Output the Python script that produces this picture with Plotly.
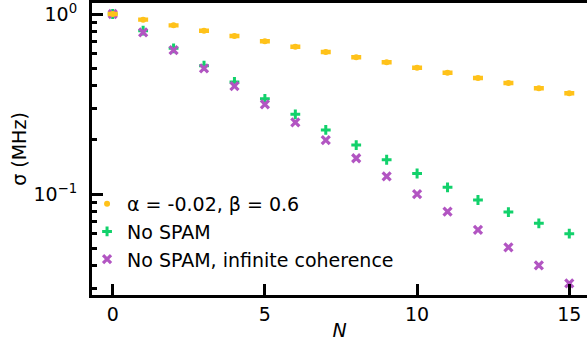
import plotly.graph_objects as go

N = list(range(16))
sigma_ab = [1.0, 0.930, 0.865, 0.808, 0.755, 0.705, 0.658, 0.615, 0.575,
            0.539, 0.503, 0.472, 0.441, 0.414, 0.387, 0.363]
sigma_ab_err = [0.012, 0.011, 0.010, 0.010, 0.009, 0.009, 0.008, 0.008, 0.007,
                0.007, 0.006, 0.006, 0.006, 0.005, 0.005, 0.005]
sigma_nospam = [1.0, 0.808, 0.645, 0.516, 0.419, 0.338, 0.277, 0.227, 0.187,
                0.155, 0.130, 0.109, 0.0926, 0.0794, 0.0687, 0.0602]
sigma_inf = [1.0, 0.791, 0.629, 0.499, 0.397, 0.315, 0.250, 0.1995, 0.158,
             0.1254, 0.100, 0.0798, 0.0633, 0.0506, 0.0402, 0.0319]

x_ticks = [0, 5, 10, 15]
y_ticks = [1, 0.1]
y_ticktext = ["10<sup>0</sup>", "10<sup>\u22121</sup>"]

YELLOW = "#FFC21A"
GREEN = "#12D16B"
PURPLE = "#B255C2"
FONT = "DejaVu Sans"
FS = 19

fig = go.Figure()
fig.add_trace(go.Scatter(
    x=N, y=sigma_nospam, mode="markers", name="No SPAM",
    legendrank=2, legendgroup="b",
    marker=dict(symbol="cross-thin", size=7, color=GREEN,
                line=dict(color=GREEN, width=3)),
))
fig.add_trace(go.Scatter(
    x=N, y=sigma_inf, mode="markers", name="No SPAM, infinite coherence",
    legendrank=3, legendgroup="c",
    marker=dict(symbol="x-thin", size=8, color=PURPLE,
                line=dict(color=PURPLE, width=3.2)),
))
fig.add_trace(go.Scatter(
    x=N, y=sigma_ab, mode="markers", name="\u03b1 = -0.02, \u03b2 = 0.6",
    legendrank=1, legendgroup="a",
    marker=dict(symbol="circle", size=6, color=YELLOW),
    error_y=dict(type="data", array=sigma_ab_err, visible=True,
                 color=YELLOW, thickness=2.5, width=5),
))

fig.update_layout(
    width=587, height=341,
    margin=dict(l=92, r=0, t=3, b=46),
    paper_bgcolor="white", plot_bgcolor="white",
    font=dict(family=FONT, size=FS, color="black"),
    showlegend=True,
    legend=dict(x=-0.01, y=0.377, xanchor="left", yanchor="top",
                bgcolor="rgba(0,0,0,0)", font=dict(size=FS, family=FONT),
                tracegroupgap=0),
    xaxis=dict(
        range=[-0.680, 15.582], tickmode="array", tickvals=x_ticks,
        ticks="inside", ticklen=11, tickwidth=3, tickcolor="black",
        showline=True, linecolor="black", linewidth=3, mirror=True,
        showgrid=False, zeroline=False,
        title=dict(text="<i>N</i>", font=dict(size=FS, family=FONT), standoff=0),
        tickfont=dict(size=FS, family=FONT),
    ),
    yaxis=dict(
        type="log", range=[-1.561, 0.0611],
        tickmode="array", tickvals=y_ticks, ticktext=y_ticktext,
        ticks="inside", ticklen=11, tickwidth=3, tickcolor="black",
        minor=dict(ticks="inside", ticklen=5, tickwidth=2.5, tickcolor="black",
                   dtick="D1", showgrid=False),
        showline=True, linecolor="black", linewidth=3,
        showgrid=False, zeroline=False, ticklabelstandoff=8,
        title=dict(text="\u03c3 (MHz)", font=dict(size=FS, family=FONT), standoff=2),
        tickfont=dict(size=FS, family=FONT),
    ),
)

fig.write_html("out.html")
